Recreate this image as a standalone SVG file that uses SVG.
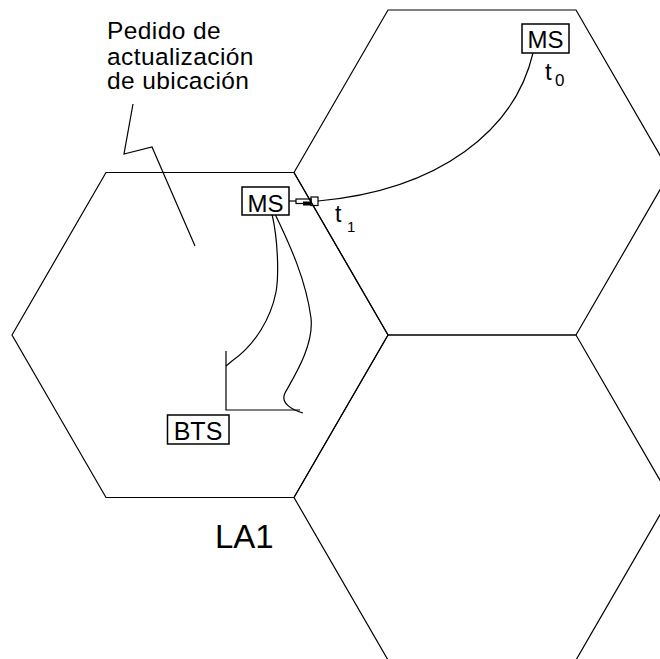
<svg xmlns="http://www.w3.org/2000/svg" width="660" height="659" viewBox="0 0 660 659">
<style>
.cell{fill:none;stroke:#000;stroke-width:1.2}
.ln{fill:none;stroke:#000;stroke-width:1.2}
.box{fill:#fff;stroke:#000;stroke-width:1.5}
.t{font-family:"Liberation Sans",Arial,sans-serif;fill:#000}
.req{font-size:24.5px;letter-spacing:0.4px}
</style>
<rect width="660" height="659" fill="#fff"/>
<g id="cells">
<polygon id="cell-LA1" class="cell" points="12,335 106,172.5 294,172.5 388,335 294,497.5 106,497.5"/>
<polygon id="cell-top-right" class="cell" points="294,172.5 388,10 576,10 670,172.5 576,335 388,335"/>
<polygon id="cell-bottom-right" class="cell" points="294,497.5 388,335 576,335 670,497.5 576,660 388,660"/>
</g>
<g id="connectors">
<path class="ln" d="M133,104 L124,154 L152,147 L195,246"/>
<path class="ln" d="M533,53 C515,130 440,190 318,201"/>
<path class="ln" d="M289,201 L296,201"/>
<rect x="296" y="199" width="15" height="4.5" class="ln"/>
<rect x="303" y="201.5" width="8" height="4" fill="#000"/>
<rect x="311" y="197" width="7" height="8.5" class="ln"/>
<path class="ln" d="M272,214 C278,240 279,275 276,292 C271,318 255,345 232,361 L226,366"/>
<path class="ln" d="M275,214 C290,245 306,280 311,318 C314,345 295,375 285,393 C280,403 292,410 303,413"/>
<path class="ln" d="M226,351 L226,410 L300,410"/>
</g>
<g id="label-request">
<text class="t req" x="107" y="39">Pedido de</text>
<text class="t req" x="107" y="64.5">actualización</text>
<text class="t req" x="107" y="89">de ubicación</text>
</g>
<g id="ms-t1">
<rect class="box" x="242" y="187" width="47" height="28"/>
<text class="t" font-size="24" x="265.5" y="211.5" text-anchor="middle">MS</text>
<text class="t" font-size="23" x="335" y="222">t</text>
<text class="t" font-size="15" x="347" y="231.5">1</text>
</g>
<g id="ms-t0">
<rect class="box" x="522" y="24" width="47" height="29"/>
<text class="t" font-size="24" x="545.5" y="48" text-anchor="middle">MS</text>
<text class="t" font-size="24" x="545" y="80">t</text>
<text class="t" font-size="17" x="555" y="86">0</text>
</g>
<g id="bts">
<rect class="box" x="167.5" y="415" width="61.5" height="29"/>
<text class="t" font-size="25" x="198" y="440" text-anchor="middle">BTS</text>
</g>
<g id="label-LA1">
<text class="t" font-size="33" x="215" y="548">LA1</text>
</g>
</svg>
